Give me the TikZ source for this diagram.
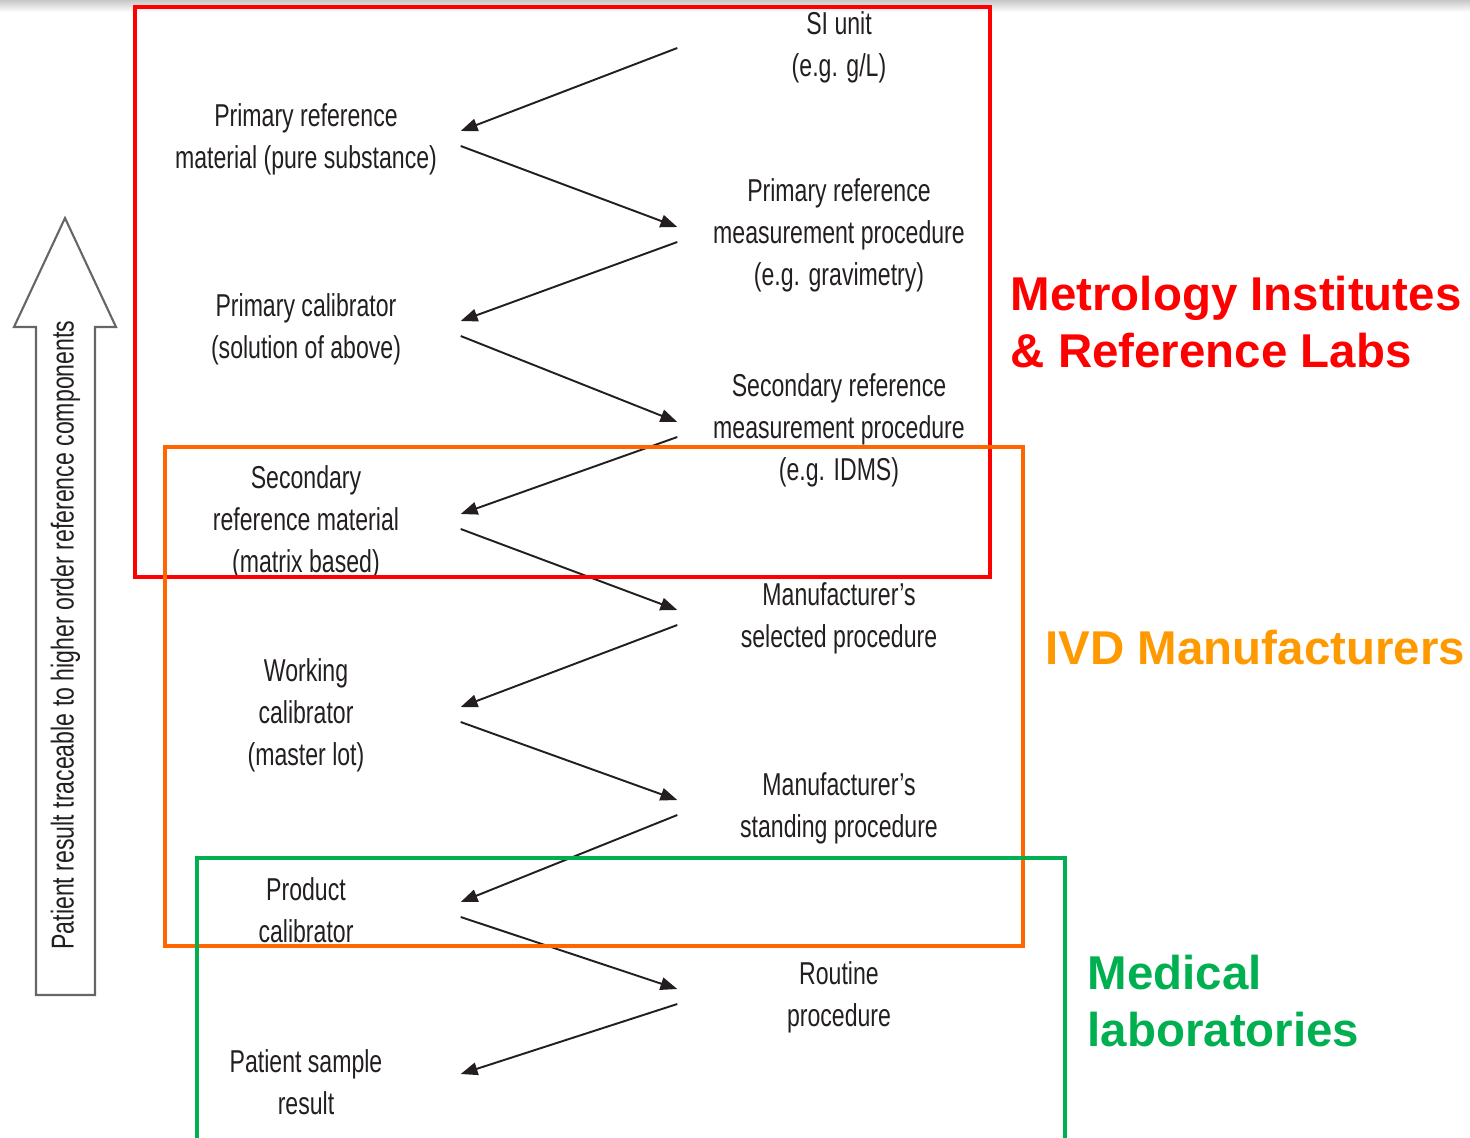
\documentclass[tikz,border=0pt]{standalone}
\usepackage{fontspec}
\newfontfamily\condfont[FakeStretch=0.73]{Liberation Sans}
\newfontfamily\labfont{Liberation Sans}
\usetikzlibrary{arrows.meta}
\definecolor{metred}{HTML}{FF0000}
\definecolor{ivdbox}{HTML}{FF6600}
\definecolor{ivdtext}{HTML}{FF9900}
\definecolor{labgreen}{HTML}{00B050}
\definecolor{ink}{HTML}{231F20}

\begin{document}
\begin{tikzpicture}[>={Triangle[length=4.8pt,width=3.6pt]},lbox/.style={align=center,inner sep=0pt,minimum width=3.08cm,text=ink,font=\condfont\fontsize{9}{12}\selectfont},rbox/.style={lbox,minimum width=3.22cm},arrow/.style={->,line width=0.55pt,draw=ink},group/.style={line width=1.25pt},grouplabel/.style={anchor=west,align=left,inner sep=0pt,font=\labfont\bfseries\fontsize{13.5}{16}\selectfont}]
\useasboundingbox (0,0) rectangle (14.7,-11.37);
\clip (0,0) rectangle (14.7,-11.37);
\shade[top color=black!22,bottom color=white] (0,0) rectangle (14.7,-0.12);
% hollow arrow on the left
\draw[draw=black!60,line width=0.6pt,fill=white] (0.36,-9.95) -- (0.36,-3.27) -- (0.14,-3.27) -- (0.65,-2.18) -- (1.16,-3.27) -- (0.95,-3.27) -- (0.95,-9.95) -- cycle;
\node[lbox,minimum width=0pt,rotate=90] (trace) at (0.655,-6.35) {Patient result traceable to higher order reference components};
% materials (left) and procedures (right)
\node[lbox] (prm) at (3.06,-1.39) {Primary reference\\material (pure substance)};
\node[lbox] (pcal) at (3.06,-3.29) {Primary calibrator\\(solution of above)};
\node[lbox] (srm) at (3.06,-5.22) {Secondary\\reference material\\(matrix based)};
\node[lbox] (wcal) at (3.06,-7.15) {Working\\calibrator\\(master lot)};
\node[lbox] (prodcal) at (3.06,-9.1) {Product\\calibrator};
\node[lbox] (result) at (3.06,-10.82) {Patient sample\\result};
\node[rbox] (si) at (8.39,-0.47) {SI unit\\(e.g. g/L)};
\node[rbox] (prmp) at (8.39,-2.35) {Primary reference\\measurement procedure\\(e.g. gravimetry)};
\node[rbox] (srmp) at (8.39,-4.3) {Secondary reference\\measurement procedure\\(e.g. IDMS)};
\node[rbox] (selproc) at (8.39,-6.18) {Manufacturer’s\\selected procedure};
\node[rbox] (stdproc) at (8.39,-8.08) {Manufacturer’s\\standing procedure};
\node[rbox] (routine) at (8.39,-9.97) {Routine\\procedure};
% zigzag
\draw[arrow] ([yshift=-0.01cm]si.west) -- ([yshift=0.08cm]prm.east);
\foreach \a/\b in {prmp/pcal,srmp/srm,selproc/wcal,stdproc/prodcal,routine/result} \draw[arrow] ([yshift=-0.07cm]\a.west) -- ([yshift=0.08cm]\b.east);
\foreach \a/\b in {prm/prmp,pcal/srmp,srm/selproc,wcal/stdproc,prodcal/routine} \draw[arrow] ([yshift=-0.07cm]\a.east) -- ([yshift=0.08cm]\b.west);
% groups
\draw[group,metred] (1.35,-0.07) rectangle (9.9,-5.77);
\draw[group,ivdbox] (1.65,-4.47) rectangle (10.23,-9.46);
\draw[group,labgreen] (1.97,-8.58) rectangle (10.65,-11.6);
\node[grouplabel,text=metred] (metro) at (10.1,-3.22) {Metrology Institutes\\\& Reference Labs};
\node[grouplabel,text=ivdtext] (ivd) at (10.45,-6.48) {IVD Manufacturers};
\node[grouplabel,text=labgreen] (medlab) at (10.87,-10.01) {Medical\\laboratories};
\end{tikzpicture}
\end{document}
